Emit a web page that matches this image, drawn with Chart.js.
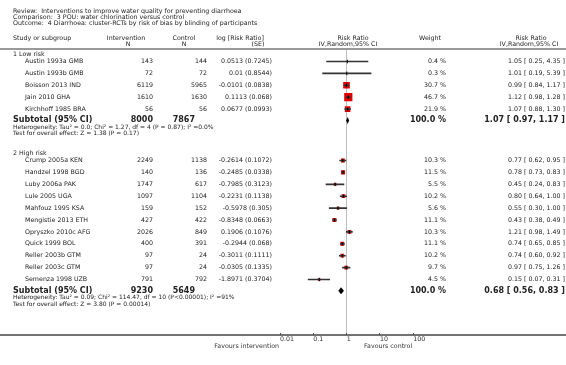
<!DOCTYPE html>
<html>
<head>
<meta charset="utf-8">
<script src="https://cdn.jsdelivr.net/npm/chart.js@4.4.1/dist/chart.umd.min.js"></script>
<style>
  html, body { margin: 0; padding: 0; background: #fff; }
  #wrap { width: 566px; height: 365px; }
</style>
</head>
<body>
<div id="wrap"><canvas id="forest"></canvas></div>
<script>
const reviewLines = [
  'Review:  Interventions to improve water quality for preventing diarrhoea',
  'Comparison:  3 POU: water chlorination versus control',
  'Outcome:  4 Diarrhoea: cluster-RCTs by risk of bias by blinding of participants'
];

// 1 Low risk
const lowStudies = ['Austin 1993a GMB', 'Austin 1993b GMB', 'Boisson 2013 IND', 'Jain 2010 GHA', 'Kirchhoff 1985 BRA'];
const lowIntN = [143, 72, 6119, 1610, 56];
const lowCtlN = [144, 72, 5965, 1630, 56];
const lowLogRR = [0.0513, 0.01, -0.0101, 0.1113, 0.0677];
const lowSE = [0.7245, 0.8544, 0.0838, 0.068, 0.0993];
const lowWeight = [0.4, 0.3, 30.7, 46.7, 21.9];
const lowRR = [1.05, 1.01, 0.99, 1.12, 1.07];
const lowLo = [0.25, 0.19, 0.84, 0.98, 0.88];
const lowHi = [4.35, 5.39, 1.17, 1.28, 1.30];
const lowTotal = { intN: 8000, ctlN: 7867, rr: 1.07, lo: 0.97, hi: 1.17 };
const lowHet = 'Heterogeneity: Tau\u00b2 = 0.0; Chi\u00b2 = 1.27, df = 4 (P = 0.87); I\u00b2 =0.0%';
const lowTest = 'Test for overall effect: Z = 1.38 (P = 0.17)';

// 2 High risk
const highStudies = ['Crump 2005a KEN', 'Handzel 1998 BGD', 'Luby 2006a PAK', 'Lule 2005 UGA', 'Mahfouz 1995 KSA',
  'Mengistie 2013 ETH', 'Opryszko 2010c AFG', 'Quick 1999 BOL', 'Reller 2003b GTM', 'Reller 2003c GTM', 'Semenza 1998 UZB'];
const highIntN = [2249, 140, 1747, 1097, 159, 427, 2026, 400, 97, 97, 791];
const highCtlN = [1138, 136, 617, 1104, 152, 422, 849, 391, 24, 24, 792];
const highLogRR = [-0.2614, -0.2485, -0.7985, -0.2231, -0.5978, -0.8348, 0.1906, -0.2944, -0.3011, -0.0305, -1.8971];
const highSE = [0.1072, 0.0338, 0.3123, 0.1138, 0.305, 0.0663, 0.1076, 0.068, 0.1111, 0.1335, 0.3704];
const highWeight = [10.3, 11.5, 5.5, 10.2, 5.6, 11.1, 10.3, 11.1, 10.2, 9.7, 4.5];
const highRR = [0.77, 0.78, 0.45, 0.80, 0.55, 0.43, 1.21, 0.74, 0.74, 0.97, 0.15];
const highLo = [0.62, 0.73, 0.24, 0.64, 0.30, 0.38, 0.98, 0.65, 0.60, 0.75, 0.07];
const highHi = [0.95, 0.83, 0.83, 1.00, 1.00, 0.49, 1.49, 0.85, 0.92, 1.26, 0.31];
const highTotal = { intN: 9230, ctlN: 5649, rr: 0.68, lo: 0.56, hi: 0.83 };
const highHet = 'Heterogeneity: Tau\u00b2 = 0.09; Chi\u00b2 = 114.47, df = 10 (P<0.00001); I\u00b2 =91%';
const highTest = 'Test for overall effect: Z = 3.80 (P = 0.00014)';

const tickValues = [0.01, 0.1, 1, 10, 100];
const tickLabels = ['0.01', '0.1', '1', '10', '100'];

// layout (px)
const ROW_H = 11.9;
const FIRST_Y = 61.5;
const TOP_RULE = 49;
const AXIS_Y = 335;
const FONT = '"DejaVu Sans", Verdana, sans-serif';
const TXT = '#222';

const groups = [
  { label: '1 Low risk', start: 0, names: lowStudies, intN: lowIntN, ctlN: lowCtlN, logRR: lowLogRR, se: lowSE,
    weight: lowWeight, rr: lowRR, lo: lowLo, hi: lowHi, total: lowTotal, het: lowHet, test: lowTest },
  { label: '2 High risk', start: 8.32, names: highStudies, intN: highIntN, ctlN: highCtlN, logRR: highLogRR, se: highSE,
    weight: highWeight, rr: highRR, lo: highLo, hi: highHi, total: highTotal, het: highHet, test: highTest }
];
groups.forEach(g => { g.subRow = g.start + g.names.length - 0.05; });

const squares = [], ciBars = [], centres = [], sizes = [];
groups.forEach(g => {
  g.names.forEach((n, i) => {
    const row = g.start + i;
    squares.push({ x: g.rr[i], y: row });
    sizes.push(1.2 * Math.sqrt(g.weight[i]) / Math.SQRT2);
    ciBars.push({ x: [g.lo[i], g.hi[i]], y: row });
    centres.push({ x: g.rr[i], y: row });
  });
});

function txt(ctx, s, x, y, align, font, color) {
  ctx.font = font;
  ctx.fillStyle = color || TXT;
  ctx.textAlign = align;
  ctx.textBaseline = 'middle';
  ctx.fillText(s, x, y);
}

const ciText = (rr, lo, hi) => `${rr.toFixed(2)} [ ${lo.toFixed(2)}, ${hi.toFixed(2)} ]`;

const forestTable = {
  id: 'forestTable',
  beforeDatasetsDraw(chart) {
    const { ctx, width } = chart;
    ctx.save();
    ctx.strokeStyle = '#9a9a9a';
    ctx.lineWidth = 2;
    ctx.beginPath();
    ctx.moveTo(0, TOP_RULE);
    ctx.lineTo(width, TOP_RULE);
    ctx.stroke();
    ctx.restore();
  },
  afterDatasetsDraw(chart) {
    const { ctx, scales: { x, y } } = chart;
    ctx.save();
    ctx.fillStyle = '#000';
    groups.forEach(g => {
      const t = g.total;
      const cy = y.getPixelForValue(g.subRow);
      const cx = x.getPixelForValue(t.rr);
      ctx.beginPath();
      ctx.moveTo(Math.min(x.getPixelForValue(t.lo), cx - 1.5), cy);
      ctx.lineTo(cx, cy - 3.5);
      ctx.lineTo(Math.max(x.getPixelForValue(t.hi), cx + 1.5), cy);
      ctx.lineTo(cx, cy + 3.5);
      ctx.closePath();
      ctx.fill();
    });
    ctx.restore();
  },
  afterDraw(chart) {
    const { ctx, width, scales: { y } } = chart;
    const f = `6.3px ${FONT}`;
    const fs = `6px ${FONT}`;
    const fb = `bold 8px ${FONT}`;
    ctx.save();
    // axis line across the full width
    ctx.strokeStyle = '#444';
    ctx.lineWidth = 1.3;
    ctx.beginPath();
    ctx.moveTo(0, AXIS_Y);
    ctx.lineTo(width, AXIS_Y);
    ctx.stroke();

    reviewLines.forEach((s, i) => txt(ctx, s, 13, 11.5 + i * 6.1, 'left', f));

    txt(ctx, 'Study or subgroup', 13, 38.3, 'left', f);
    txt(ctx, 'Intervention', 126, 38.3, 'center', f);
    txt(ctx, 'N', 128, 44, 'center', f);
    txt(ctx, 'Control', 184, 38.3, 'center', f);
    txt(ctx, 'N', 184, 44, 'center', f);
    txt(ctx, 'log [Risk Ratio]', 240, 38.3, 'center', f);
    txt(ctx, '(SE)', 258, 44, 'center', f);
    txt(ctx, 'Risk Ratio', 353, 38.3, 'center', f);
    txt(ctx, 'IV,Random,95% CI', 348, 44, 'center', f);
    txt(ctx, 'Weight', 430, 38.3, 'center', f);
    txt(ctx, 'Risk Ratio', 531, 38.3, 'center', f);
    txt(ctx, 'IV,Random,95% CI', 529, 44, 'center', f);

    groups.forEach(g => {
      txt(ctx, g.label, 13, y.getPixelForValue(g.start) - 7, 'left', f);
      g.names.forEach((n, i) => {
        const ry = y.getPixelForValue(g.start + i);
        txt(ctx, n, 25, ry, 'left', f);
        txt(ctx, String(g.intN[i]), 153, ry, 'right', f);
        txt(ctx, String(g.ctlN[i]), 207, ry, 'right', f);
        txt(ctx, `${g.logRR[i]} (${g.se[i]})`, 272, ry, 'right', f);
        txt(ctx, `${g.weight[i].toFixed(1)} %`, 446, ry, 'right', f);
        txt(ctx, ciText(g.rr[i], g.lo[i], g.hi[i]), 565, ry, 'right', f);
      });
      const sy = y.getPixelForValue(g.subRow);
      txt(ctx, 'Subtotal (95% CI)', 13, sy, 'left', fb);
      txt(ctx, String(g.total.intN), 153, sy, 'right', fb);
      txt(ctx, String(g.total.ctlN), 195, sy, 'right', fb);
      txt(ctx, '100.0 %', 446, sy, 'right', fb);
      txt(ctx, ciText(g.total.rr, g.total.lo, g.total.hi), 565, sy, 'right', fb);
      txt(ctx, g.het, 13, sy + 7, 'left', fs);
      txt(ctx, g.test, 13, sy + 13.5, 'left', fs);
    });

    txt(ctx, 'Favours intervention', 279, 346, 'right', f, '#333');
    txt(ctx, 'Favours control', 364, 346, 'left', f, '#333');
    ctx.restore();
  }
};

new Chart(document.getElementById('forest'), {
  type: 'scatter',
  data: {
    datasets: [
      {
        label: 'centre',
        data: centres,
        pointStyle: 'line',
        rotation: 90,
        pointRadius: 1.8,
        borderColor: '#000',
        borderWidth: 1,
        order: 1
      },
      {
        type: 'bar',
        label: 'ci',
        indexAxis: 'y',
        data: ciBars,
        barThickness: 1,
        backgroundColor: '#333',
        borderWidth: 0,
        order: 2
      },
      {
        label: 'estimate',
        data: squares,
        pointStyle: 'rect',
        pointRadius: sizes,
        backgroundColor: '#e00000',
        borderWidth: 0,
        order: 3
      }
    ]
  },
  options: {
    responsive: true,
    maintainAspectRatio: false,
    animation: false,
    events: [],
    layout: { padding: { left: 280, right: 566 - 413.3, top: TOP_RULE, bottom: 0 } },
    plugins: { legend: { display: false }, tooltip: { enabled: false } },
    scales: {
      x: {
        type: 'logarithmic',
        position: 'bottom',
        min: tickValues[0],
        max: tickValues[tickValues.length - 1],
        afterBuildTicks: (scale) => { scale.ticks = tickValues.map(v => ({ value: v })); },
        afterFit: (scale) => { scale.height = 365 - AXIS_Y; },
        border: { display: false },
        grid: {
          color: (c) => (c.tick && c.tick.value === 1 ? '#bdbdbd' : 'rgba(0,0,0,0)'),
          tickColor: '#555',
          tickLength: -2,
          lineWidth: 1
        },
        ticks: {
          align: 'start',
          padding: 2.5,
          maxRotation: 0,
          autoSkip: false,
          color: '#333',
          font: { family: FONT, size: 6.3 },
          callback: (v, i) => tickLabels[i]
        }
      },
      y: {
        type: 'linear',
        display: false,
        reverse: true,
        offset: false,
        min: (TOP_RULE - FIRST_Y) / ROW_H,
        max: (AXIS_Y - FIRST_Y) / ROW_H
      }
    }
  },
  plugins: [forestTable]
});
</script>
</body>
</html>
